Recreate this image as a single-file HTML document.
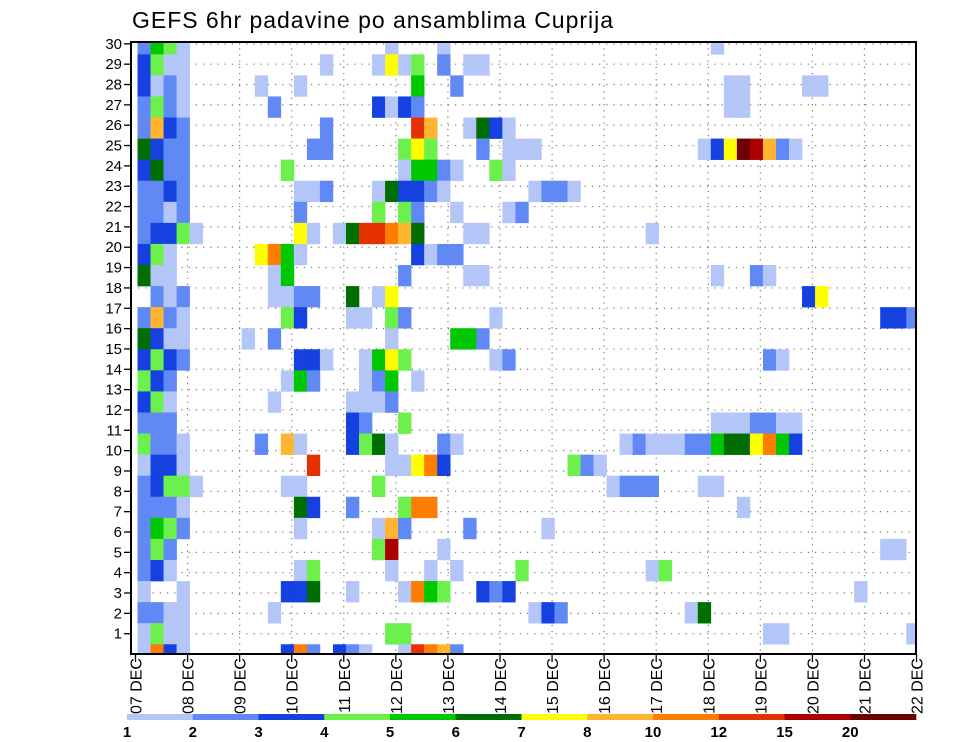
<!DOCTYPE html>
<html><head><meta charset="utf-8"><style>
html,body{margin:0;padding:0;background:#fff;width:960px;height:742px;overflow:hidden}
svg{display:block;font-family:"Liberation Sans",sans-serif}
</style></head><body>
<svg id="chart" width="960" height="742" viewBox="0 0 960 742" xmlns="http://www.w3.org/2000/svg">
<text x="132" y="28" font-size="23" textLength="481" fill="#000">GEFS 6hr padavine po ansamblima Cuprija</text>
<defs><clipPath id="plotclip"><rect x="131" y="42" width="785" height="612"/></clipPath></defs>
<g id="grid"></g>
<g id="cells" clip-path="url(#plotclip)"></g>
<rect x="131" y="42" width="785" height="612" fill="none" stroke="#000" stroke-width="2"/>
<g id="yaxis"></g>
<g id="xaxis"></g>
<g id="cbar"></g>
</svg>
<script>
// ensemble members, top band to bottom band
const members = [30,29,28,27,26,25,24,23,22,21,20,19,18,17,16,14,13,12,11,10,9,8,7,6,5,4,3,2,1,0];
// sparse cells "step:levelCode" per member (level code index into levelValues)
const memberCells = [
"0:2 1:5 2:4 3:1 19:1 23:1 44:1",
"0:3 1:4 2:1 3:1 14:1 18:1 19:7 20:1 21:4 23:2 25:1 26:1",
"0:3 1:1 2:2 3:1 9:1 12:1 21:5 24:2 45:1 46:1 51:1 52:1",
"0:2 1:4 2:2 3:1 10:2 18:3 19:1 20:3 21:2 45:1 46:1",
"0:2 1:8 2:3 3:2 14:2 21:a 22:8 25:1 26:6 27:3 28:1",
"0:6 1:3 2:2 3:2 13:2 14:2 20:4 21:7 22:4 26:2 28:1 29:1 30:1 43:1 44:3 45:7 46:c 47:b 48:8 49:2 50:1",
"0:3 1:6 2:2 3:2 11:4 20:1 21:5 22:5 23:2 24:1 27:4 28:1",
"0:2 1:2 2:3 3:2 12:1 13:1 14:2 18:1 19:6 20:3 21:3 22:2 23:1 30:1 31:2 32:2 33:1",
"0:2 1:2 2:1 3:2 12:2 18:4 20:4 21:2 24:1 28:1 29:2",
"0:2 1:3 2:3 3:4 4:1 12:7 13:1 15:1 16:6 17:a 18:a 19:9 20:8 21:6 25:1 26:1 39:1",
"0:3 1:4 2:1 9:7 10:9 11:5 12:1 21:3 22:1 23:2 24:2",
"0:6 1:1 2:1 10:1 11:5 20:2 25:1 26:1 44:1 47:2 48:1",
"1:2 2:1 3:2 10:1 11:1 12:2 13:2 16:6 18:1 19:7 51:3 52:7",
"0:2 1:8 2:2 3:1 11:4 12:3 16:1 17:1 19:4 20:2 27:1 57:3 58:3 59:2",
"0:6 1:3 2:1 3:1 8:1 10:2 19:1 24:5 25:5 26:2",
"0:3 1:4 2:3 3:2 12:3 13:3 14:1 17:1 18:5 19:7 20:4 27:1 28:2 48:2 49:1",
"0:4 1:3 2:2 11:1 12:5 13:2 17:1 18:2 19:5 21:1",
"0:3 1:4 2:1 10:1 16:1 17:1 18:1 19:2",
"0:2 1:2 2:2 16:3 17:2 20:4 44:1 45:1 46:1 47:2 48:2 49:1 50:1",
"0:4 1:2 2:2 3:1 9:2 11:8 12:1 16:3 17:4 18:6 19:1 23:2 24:1 37:1 38:2 39:1 40:1 41:1 42:2 43:2 44:5 45:6 46:6 47:7 48:9 49:5 50:3",
"0:1 1:3 2:3 3:1 13:a 19:1 20:1 21:7 22:9 23:3 33:4 34:2 35:1",
"0:2 1:3 2:4 3:4 4:1 11:1 12:1 18:4 36:1 37:2 38:2 39:2 43:1 44:1",
"0:2 1:2 2:2 3:1 12:6 13:3 16:2 20:4 21:9 22:9 46:1",
"0:2 1:5 2:4 3:2 12:1 18:1 19:8 20:2 25:2 31:1",
"0:2 1:4 2:2 18:4 19:b 23:1 57:1 58:1",
"0:2 1:3 2:1 12:1 13:4 19:1 22:1 24:1 29:4 39:1 40:4",
"0:1 3:1 11:3 12:3 13:6 16:1 20:1 21:9 22:5 23:4 26:3 27:2 28:3 55:1",
"0:2 1:2 2:1 3:1 10:1 30:1 31:3 32:2 42:1 43:6",
"0:1 1:4 2:1 3:1 19:4 20:4 48:1 49:1 59:1",
"0:1 1:9 2:3 3:1 11:3 12:9 13:2 15:3 16:2 17:1 20:1 21:a 22:9 23:8 24:2"
];
const levelCodes = "123456789abc";
const levelValues = [1.5,2.5,3.5,4.5,5.5,6.5,7.5,9,11,13.5,17.5,25];
const thresholds = [1,2,3,4,5,6,7,8,10,12,15,20];
const thresholdLabels = ["1","2","3","4","5","6","7","8","10","12","15","20"];
const colors = ["#b4c6f8","#6189f6","#1441e0","#6cf04c","#00c800","#006e00","#ffff00","#ffb432","#ff7d00","#e63200","#aa0000","#6e0000"];
const dayLabels = ["07 DEC","08 DEC","09 DEC","10 DEC","11 DEC","12 DEC","13 DEC","14 DEC","15 DEC","16 DEC","17 DEC","18 DEC","19 DEC","20 DEC","21 DEC","22 DEC"];
const yTicks = [1,2,3,4,5,6,7,8,9,10,11,12,13,14,15,16,17,18,19,20,21,22,23,24,25,26,27,28,29,30];

const NS="http://www.w3.org/2000/svg";
function mk(tag,attrs,parent){const e=document.createElementNS(NS,tag);for(const k in attrs)e.setAttribute(k,attrs[k]);parent.appendChild(e);return e;}
const xStep = s => 137.5 + s*13.03;
const stepW = 13.03;
const xDay = d => 135.5 + d*52.07;
const yTick = n => 633.7 - (n-1)*20.34;
const bandH = 21.07;
const yBand = k => k===0 ? 54.3-bandH : 54.3 + (k-1)*bandH;
function colorFor(v){let i=0;for(let j=0;j<thresholds.length;j++){if(v>=thresholds[j])i=j;}return colors[i];}

const grid=document.getElementById('grid');
yTicks.forEach(n=>{
  const l=mk('line',{x1:131,x2:916,y1:yTick(n),y2:yTick(n),stroke:'#777','stroke-width':1.2,'stroke-dasharray':'1.2 6'},grid);
  
  
});
dayLabels.forEach((d,i)=>{
  if(i===0||i===15)return;
  const l=mk('line',{x1:xDay(i),x2:xDay(i),y1:42,y2:654,stroke:'#777','stroke-width':1.2,'stroke-dasharray':'1.2 5'},grid);
  
  
});

const cells=document.getElementById('cells');
members.forEach((m,k)=>{
  memberCells[k].split(' ').forEach(tok=>{
    if(!tok)return;
    const [s,c]=tok.split(':');
    const v=levelValues[levelCodes.indexOf(c)];
    const r=mk('rect',{x:xStep(+s),y:yBand(k),width:stepW+0.3,height:bandH+0.3,fill:colorFor(v)},cells);
    
    
  });
});

const ya=document.getElementById('yaxis');
yTicks.forEach(n=>{
  const t=mk('line',{x1:124,x2:131,y1:yTick(n),y2:yTick(n),stroke:'#000','stroke-width':1.3},ya);
  
  
  const tx=mk('text',{x:122,y:yTick(n)+5,'text-anchor':'end','font-size':15,fill:'#000'},ya);
  tx.textContent=n;
  
  
});

const xa=document.getElementById('xaxis');
dayLabels.forEach((d,i)=>{
  const x=xDay(i);
  const t=mk('line',{x1:x,x2:x,y1:654,y2:662,stroke:'#000','stroke-width':1.3},xa);
  
  
  const tx=mk('text',{transform:`translate(${x+6},658) rotate(-90)`,'text-anchor':'end','font-size':16,fill:'#000'},xa);
  tx.textContent=d;
  
  
});

const cb=document.getElementById('cbar');
const cbX0=127, cbW=65.75;
colors.forEach((c,i)=>{
  const r=mk('rect',{x:cbX0+i*cbW,y:714,width:cbW+0.3,height:6,fill:c},cb);
  
  
});
thresholdLabels.forEach((lab,i)=>{
  const t=mk('text',{x:cbX0+i*cbW,y:737,'text-anchor':'middle','font-size':15,'font-weight':'bold',fill:'#000'},cb);
  t.textContent=lab;
  
  
});
</script>
</body></html>
